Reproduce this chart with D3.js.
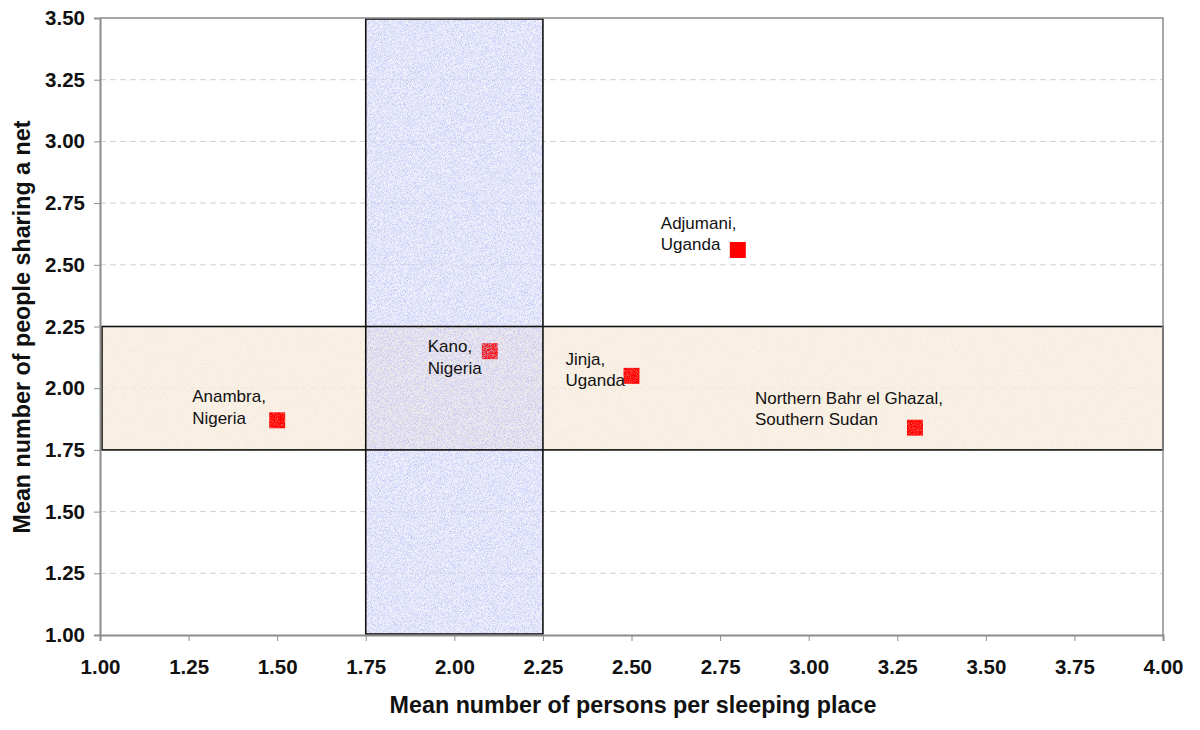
<!DOCTYPE html>
<html>
<head>
<meta charset="utf-8">
<script src="https://cdn.jsdelivr.net/npm/d3@7/dist/d3.min.js"></script>
<style>
  html, body { margin: 0; padding: 0; background: #fff; }
  svg { display: block; font-family: "Liberation Sans", Arial, sans-serif; }
</style>
</head>
<body>
<svg id="chart" width="1200" height="730"></svg>
<script>
// ---- data ----
const sites = ["Anambra,|Nigeria", "Kano,|Nigeria", "Jinja,|Uganda", "Adjumani,|Uganda", "Northern Bahr el Ghazal,|Southern Sudan"];
const personsPerPlace = [1.50, 2.10, 2.50, 2.80, 3.30];
const peoplePerNet = [1.87, 2.15, 2.05, 2.56, 1.84];
const xTicks = [1.00, 1.25, 1.50, 1.75, 2.00, 2.25, 2.50, 2.75, 3.00, 3.25, 3.50, 3.75, 4.00];
const yTicks = [1.00, 1.25, 1.50, 1.75, 2.00, 2.25, 2.50, 2.75, 3.00, 3.25, 3.50];
const xBand = [1.75, 2.25];   // vertical shaded band (persons per sleeping place)
const yBand = [1.75, 2.25];   // horizontal shaded band (people per net)
const xTitle = "Mean number of persons per sleeping place";
const yTitle = "Mean number of people sharing a net";

// ---- layout ----
const pLeft = 100, pRight = 1163, pTop = 18, pBottom = 635;
const labelOffsets = [[-85, -22], [-62, -3], [-66, -15], [-77, -25], [-160, -28]];

const svg = d3.select("#chart");
const x = d3.scaleLinear().domain([1, 4]).range([pLeft, pRight]);
const y = d3.scaleLinear().domain([1, 3.5]).range([pBottom, pTop]);

// noise filters for textured fills
const defs = svg.append("defs");
function noiseFilter(id, r, g, b, k, c, seed) {
  const f = defs.append("filter").attr("id", id)
    .attr("x", 0).attr("y", 0).attr("width", 1).attr("height", 1)
    .attr("filterUnits", "objectBoundingBox");
  f.append("feTurbulence").attr("type", "fractalNoise")
    .attr("baseFrequency", 1.3).attr("numOctaves", 2).attr("seed", seed).attr("result", "n");
  f.append("feColorMatrix").attr("in", "n").attr("type", "matrix")
    .attr("values", `0 0 0 0 ${r}  0 0 0 0 ${g}  0 0 0 0 ${b}  ${k} 0 0 0 ${c}`)
    .attr("result", "c");
  f.append("feComposite").attr("in", "c").attr("in2", "SourceGraphic").attr("operator", "in");
}
noiseFilter("noiseBlue", 0.45, 0.48, 0.92, 1.9, -0.74, 3);
noiseFilter("noiseOrange", 0.92, 0.72, 0.50, 1.2, -0.50, 7);

// gridlines (dashed)
svg.append("g")
  .selectAll("line").data(yTicks.filter(v => v > 1 && v < 3.5)).join("line")
  .attr("x1", pLeft).attr("x2", pRight)
  .attr("y1", d => y(d)).attr("y2", d => y(d))
  .attr("stroke", "#d0d0d0").attr("stroke-width", 1).attr("stroke-dasharray", "6,4");

const hRect = {x: x(1), y: y(yBand[1]), w: x(4) - x(1), h: y(yBand[0]) - y(yBand[1])};
const vRect = {x: x(xBand[0]), y: y(3.5) + 1, w: x(xBand[1]) - x(xBand[0]), h: y(1) - y(3.5) - 1};

// flat tints of the bands
svg.append("rect").attr("x", hRect.x).attr("y", hRect.y).attr("width", hRect.w).attr("height", hRect.h)
  .attr("fill", "#f8efe3").attr("opacity", 0.8);
svg.append("rect").attr("x", vRect.x).attr("y", vRect.y).attr("width", vRect.w).attr("height", vRect.h)
  .attr("fill", "#e6e8f9").attr("opacity", 0.6);

// markers
svg.append("g")
  .selectAll("rect").data(d3.range(sites.length)).join("rect")
  .attr("x", i => x(personsPerPlace[i]) - 8)
  .attr("y", i => y(peoplePerNet[i]) - 8)
  .attr("width", 16).attr("height", 16)
  .attr("fill", "#ff0000");

// speckle texture of the bands (over markers)
svg.append("rect").attr("x", hRect.x).attr("y", hRect.y).attr("width", hRect.w).attr("height", hRect.h)
  .attr("fill", "#000").attr("filter", "url(#noiseOrange)");
svg.append("rect").attr("x", vRect.x).attr("y", vRect.y).attr("width", vRect.w).attr("height", vRect.h)
  .attr("fill", "#000").attr("filter", "url(#noiseBlue)");

// band borders
svg.append("rect")
  .attr("x", hRect.x + 2).attr("y", hRect.y).attr("width", hRect.w - 2).attr("height", hRect.h)
  .attr("fill", "none").attr("stroke", "#111").attr("stroke-width", 1.6);
svg.append("rect")
  .attr("x", vRect.x).attr("y", vRect.y).attr("width", vRect.w).attr("height", vRect.h - 1)
  .attr("fill", "none").attr("stroke", "#111").attr("stroke-width", 1.6);

// plot frame (top & right)
svg.append("path")
  .attr("d", `M${pLeft},${pTop}H${pRight}V${pBottom}`)
  .attr("fill", "none").attr("stroke", "#8c8c8c").attr("stroke-width", 1.5);

// axes
const xAxis = svg.append("g").attr("transform", `translate(0,${pBottom})`)
  .call(d3.axisBottom(x).tickValues(xTicks).tickFormat(d3.format(".2f")).tickSize(6).tickPadding(18));
const yAxis = svg.append("g").attr("transform", `translate(${pLeft},0)`)
  .call(d3.axisLeft(y).tickValues(yTicks).tickFormat(d3.format(".2f")).tickSize(6).tickPadding(9));
[xAxis, yAxis].forEach(a => {
  a.select(".domain").attr("stroke", "#8c8c8c").attr("stroke-width", 2);
  a.selectAll(".tick line").attr("stroke", "#8c8c8c").attr("stroke-width", 1);
  a.selectAll(".tick text")
    .attr("font-family", "'Liberation Sans', Arial, sans-serif")
    .attr("font-size", 20.5).attr("font-weight", "bold").attr("fill", "#111");
});

// axis titles
svg.append("text")
  .attr("x", 633).attr("y", 713)
  .attr("text-anchor", "middle").attr("font-size", 23.3).attr("font-weight", "bold").attr("fill", "#111")
  .text(xTitle);
svg.append("text")
  .attr("transform", `translate(30,327) rotate(-90)`)
  .attr("text-anchor", "middle").attr("font-size", 23.3).attr("font-weight", "bold").attr("fill", "#111")
  .text(yTitle);

// point labels
const lg = svg.append("g");
sites.forEach((s, i) => {
  const cx = x(personsPerPlace[i]), cy = y(peoplePerNet[i]);
  const [dx, dy] = labelOffsets[i];
  const t = lg.append("text")
    .attr("x", cx + dx).attr("y", cy + dy)
    .attr("font-size", 17).attr("fill", "#111").attr("dominant-baseline", "middle");
  s.split("|").forEach((line, k) => {
    t.append("tspan").attr("x", cx + dx).attr("dy", k === 0 ? 0 : 21.5).text(line);
  });
});
</script>
</body>
</html>
